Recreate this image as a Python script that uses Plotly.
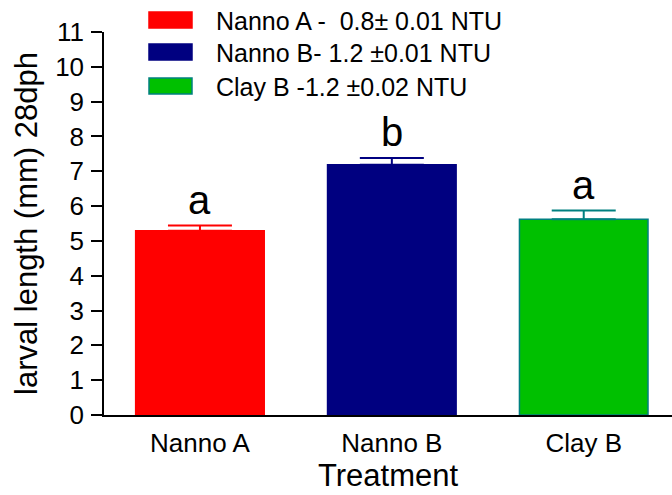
import plotly.graph_objects as go

# ---- data ----
categories = ["Nanno A", "Nanno B", "Clay B"]
means = [5.29, 7.19, 5.62]
sem = [0.15, 0.19, 0.25]
letters = ["a", "b", "a"]
legend_labels = ["Nanno A -\u00a0 0.8\u00b1 0.01 NTU",
                 "Nanno B- 1.2 \u00b10.01 NTU",
                 "Clay B -1.2 \u00b10.02 NTU"]
fill_colors = ["#FF0000", "#000080", "#00C000"]
line_colors = ["#FF0000", "#000080", "#008080"]
y_ticks = list(range(0, 12))

# ---- layout geometry (pixels) ----
W, H = 672, 495
L, R, T, B = 104, 0, 32, 80
PW, PH = W - L - R, H - T - B
FONT = "Arial, Liberation Sans, sans-serif"

def px_x(x):
    return (x - L) / PW

def px_y(y):
    return (H - B - y) / PH

fig = go.Figure()
for i, cat in enumerate(categories):
    fig.add_trace(go.Bar(
        x=[cat], y=[means[i]], width=0.67,
        marker=dict(color=fill_colors[i], line=dict(color=line_colors[i], width=1.5)),
        error_y=dict(type="data", array=[sem[i]], arrayminus=[0], symmetric=False,
                     color=line_colors[i], thickness=2, width=32),
        showlegend=False,
    ))
    fig.add_annotation(x=cat, y=means[i] + sem[i], text=letters[i],
                       showarrow=False, yanchor="bottom", yshift=2,
                       font=dict(size=40, color="black", family=FONT))

# manual legend (wide swatches)
row_centers = [20, 52, 86]
for i, lab in enumerate(legend_labels):
    yc = row_centers[i]
    fig.add_shape(type="rect", xref="paper", yref="paper",
                  x0=px_x(149), x1=px_x(192), y0=px_y(yc + 8), y1=px_y(yc - 8),
                  fillcolor=fill_colors[i], line=dict(color=line_colors[i], width=1.5))
    fig.add_annotation(xref="paper", yref="paper", x=px_x(214), y=px_y(yc + 1),
                       xanchor="left", yanchor="middle", text=lab, showarrow=False,
                       font=dict(size=25, color="black", family=FONT))

fig.update_layout(
    width=W, height=H,
    margin=dict(l=L, r=R, t=T, b=B, pad=0),
    paper_bgcolor="white", plot_bgcolor="white",
    barmode="overlay",
    font=dict(family=FONT, color="black"),
    xaxis=dict(
        range=[-0.5, 2.46], showline=True, linecolor="black", linewidth=1.5,
        ticks="", showgrid=False, zeroline=False,
        tickfont=dict(size=26, family=FONT), ticklabelstandoff=4,
        title=dict(text="Treatment", font=dict(size=31, family=FONT), standoff=6),
    ),
    yaxis=dict(
        range=[0, 11], tickvals=y_ticks, showline=True, linecolor="black", linewidth=1.5,
        ticks="outside", ticklen=11, tickwidth=1.5, tickcolor="black",
        showgrid=False, zeroline=False,
        tickfont=dict(size=26, family=FONT), ticklabelstandoff=2,
        title=dict(text="larval length (mm) 28dph", font=dict(size=31, family=FONT), standoff=8),
    ),
)

fig.write_html("out.html")
